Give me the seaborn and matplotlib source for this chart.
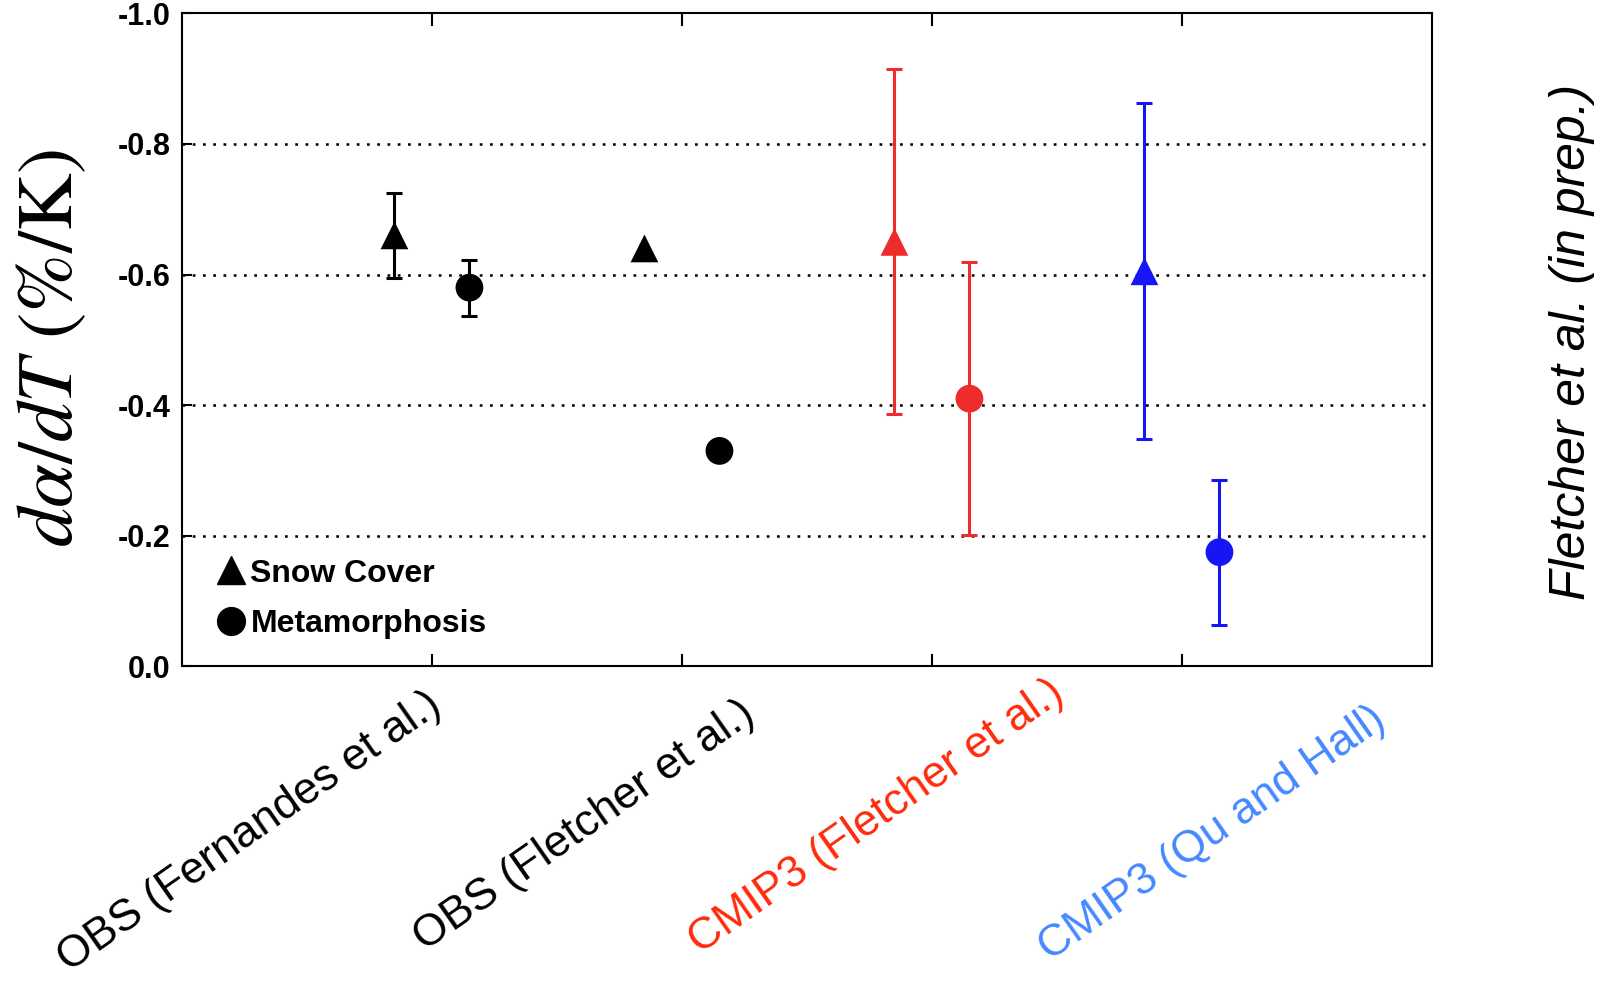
import numpy as np
import pandas as pd
import matplotlib.pyplot as plt
import seaborn as sns
from matplotlib.lines import Line2D

# values
groups = ["OBS (Fernandes et al.)", "OBS (Fletcher et al.)",
          "CMIP3 (Fletcher et al.)", "CMIP3 (Qu and Hall)"]
snow_cover = [-0.66, -0.64, -0.65, -0.605]
snow_cover_err = [0.065, np.nan, 0.264, 0.257]
metamorphosis = [-0.58, -0.33, -0.41, -0.175]
metamorphosis_err = [0.043, np.nan, 0.209, 0.111]
point_colors = ["black", "black", "#ee2c2c", "#1616f4"]
label_colors = ["black", "black", "#ff2a0a", "#4488ff"]
ytick_values = [-1.0, -0.8, -0.6, -0.4, -0.2, 0.0]
ytick_labels = ["-1.0", "-0.8", "-0.6", "-0.4", "-0.2", "0.0"]

sns.set_style("white")
plt.rcParams["font.family"] = ["Liberation Sans", "DejaVu Sans"]
plt.rcParams["mathtext.fontset"] = "stix"
plt.rcParams["text.color"] = "black"
plt.rcParams["xtick.color"] = "black"
plt.rcParams["ytick.color"] = "black"

rows = []
for i, g in enumerate(groups):
    rows.append({"group": g, "kind": "Snow Cover", "x": i + 1 - 0.15,
                 "value": snow_cover[i], "err": snow_cover_err[i], "color": point_colors[i]})
    rows.append({"group": g, "kind": "Metamorphosis", "x": i + 1 + 0.15,
                 "value": metamorphosis[i], "err": metamorphosis_err[i], "color": point_colors[i]})
df = pd.DataFrame(rows)

fig = plt.figure(figsize=(16.03, 9.85), dpi=100)
ax = fig.add_axes([0.1135, 0.3234, 0.7798, 0.6631])

# error bars first, markers on top
for _, r in df.dropna(subset=["err"]).iterrows():
    ax.errorbar(r["x"], r["value"], yerr=r["err"], fmt="none", ecolor=r["color"],
                elinewidth=2.2, capsize=5.5, capthick=2.2, zorder=2)

sns.scatterplot(data=df, x="x", y="value", hue="group", style="kind",
                palette=dict(zip(groups, point_colors)),
                markers={"Snow Cover": "^", "Metamorphosis": "o"},
                s=400, edgecolor="none", linewidth=0, legend=False, ax=ax, zorder=3)

ax.set_xlim(0, 5)
ax.set_ylim(0, -1.0)
ax.set_xticks([1, 2, 3, 4])
ax.set_xticklabels([])
ax.set_yticks(ytick_values)
ax.set_yticklabels(ytick_labels, fontsize=22, fontweight="bold", color="black")
ax.set_xlabel("")
ax.set_ylabel("")
ax.tick_params(axis="x", direction="in", top=True, bottom=True, length=9, width=1.5)
ax.tick_params(axis="y", direction="in", left=True, length=7, width=1.5, pad=8)

for y in ytick_values[1:-1]:
    ax.axhline(y, color="black", lw=1.8, linestyle=(0, (1.1, 3.0)), zorder=1)

for sp in ax.spines.values():
    sp.set_linewidth(1.5)
    sp.set_color("black")

# category labels, placed by hand like the original
label_offsets = [(-182, -166), (-98, -159), (-56, -150), (30, -167)]
for i, g in enumerate(groups):
    ax.annotate(g, xy=(i + 1, 0), xycoords="data", xytext=label_offsets[i],
                textcoords="offset pixels", rotation=35, rotation_mode="anchor",
                ha="center", va="center", fontsize=32, color=label_colors[i],
                annotation_clip=False)

handles = [Line2D([], [], marker="^", color="black", linestyle="none", markersize=20),
           Line2D([], [], marker="o", color="black", linestyle="none", markersize=20)]
ax.legend(handles, ["Snow Cover", "Metamorphosis"], loc="lower left",
          bbox_to_anchor=(0.028, 0.042), frameon=False, borderpad=0, borderaxespad=0,
          prop={"weight": "bold", "size": 23}, handletextpad=0.15,
          labelspacing=0.64, handlelength=0.9)

fig.text(52 / 1603, 1 - 348 / 985, r"$d\alpha/dT$ (%/K)", rotation=90,
         ha="center", va="center", fontsize=57, family="STIXGeneral")
fig.text(1572 / 1603, 1 - 342 / 985, "Fletcher et al. (in prep.)", rotation=90,
         ha="center", va="center", fontsize=36, style="italic")

fig.savefig("out.png", dpi=100)
print("saved out.png")
